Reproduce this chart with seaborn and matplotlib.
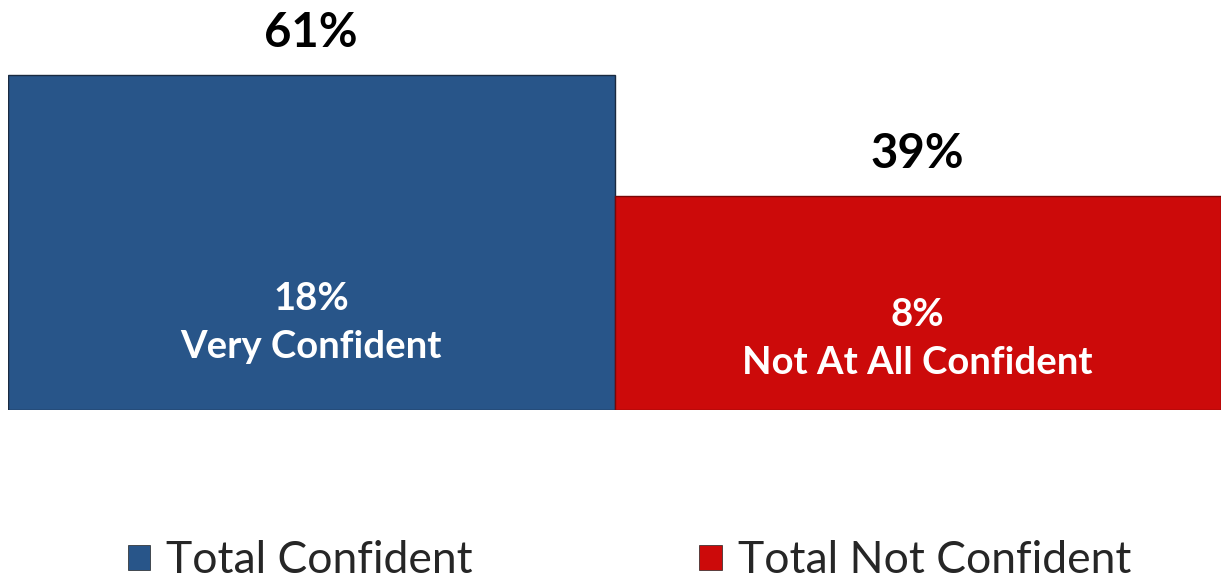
import matplotlib.pyplot as plt
import seaborn as sns
import pandas as pd
from matplotlib.patches import Patch

# values
categories = ["Total Confident", "Total Not Confident"]
totals = [61, 39]
inner_pct = [18, 8]
inner_names = ["Very Confident", "Not At All Confident"]
colors = ["#285589", "#CC0A0A"]
inner_y = [15.9, 13.0]

df = pd.DataFrame({"category": categories, "total": totals})

sns.set_style("white")
plt.rcParams['font.family'] = ['Lato', 'DejaVu Sans']

fig = plt.figure(figsize=(12.21, 5.84), dpi=100)
ax = fig.add_axes([8 / 1221, 174 / 584, 1213 / 1221, 410 / 584])

sns.barplot(data=df, x="category", y="total", hue="category", palette=colors,
            saturation=1, width=1.0, legend=False, ax=ax,
            edgecolor="#1a2a40", linewidth=1.0)
ax.patches[1].set_edgecolor("#7a0606")

ax.set_xlim(-0.5, 1.5)
ax.set_ylim(0, 74.7)
ax.axis("off")

for i, (t, p, n) in enumerate(zip(totals, inner_pct, inner_names)):
    ax.text(i, t + 7.6, f"{t}%", ha="center", va="center",
            fontsize=34, fontweight="bold", color="black")
    ax.text(i, inner_y[i], f"{p}%\n{n}", ha="center", va="center",
            fontsize=27.5, fontweight="bold", color="white", linespacing=1.5)

handles = [Patch(facecolor=c, edgecolor="#222222", linewidth=0.5) for c in colors]
fig.legend(handles, categories, loc="lower center", ncol=2, frameon=False,
           bbox_to_anchor=(0.5155, -0.064), fontsize=32, handlelength=0.5,
           handleheight=0.5, handletextpad=0.36, columnspacing=5.1)

fig.savefig("out.png", dpi=100)
